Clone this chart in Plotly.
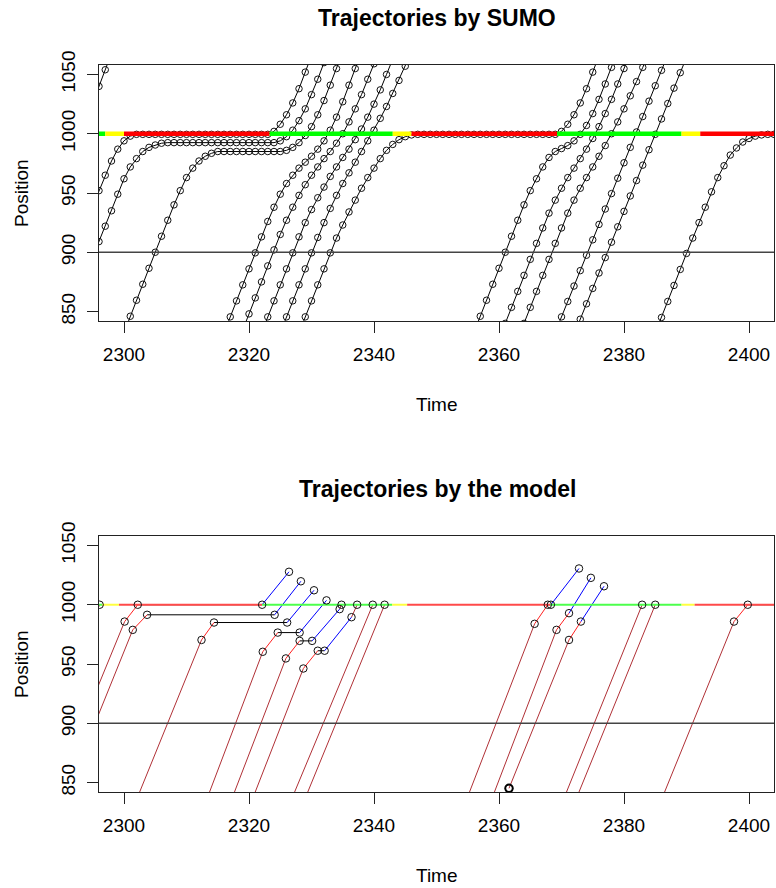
import plotly.graph_objects as go

# ---------------- axis ticks ----------------
time_ticks = [2300, 2320, 2340, 2360, 2380, 2400]
pos_ticks = [850, 900, 950, 1000, 1050]
time_range = [2296, 2404]
pos_range = [842, 1058]
reference_pos = 900
stop_line_pos = 1000

# ---------------- signal phases ----------------
sumo_phase_bounds = [2290, 2297.0, 2300.0, 2323.3, 2343.0, 2346.0, 2369.3, 2389.2, 2392.2, 2410]
sumo_phase_colors = ["green", "yellow", "red", "green", "yellow", "red", "green", "yellow", "red"]
model_phase_bounds = [2290, 2296.5, 2299.2, 2322.1, 2342.9, 2345.3, 2368.2, 2389.2, 2391.3, 2410]
model_phase_colors = ["green", "yellow", "red", "green", "yellow", "red", "green", "yellow", "red"]

# ---------------- SUMO trajectories (1 s samples from start time) ----------------
sumo_A_t0 = 2295
sumo_A_pos = [1026, 1040, 1054, 1068]
sumo_B_t0 = 2295
sumo_B_pos = [939, 952, 965, 977, 987, 994, 998, 999.5,
              999.5, 999.5, 999.5, 999.5, 999.5, 999.5, 999.5, 999.5, 999.5, 999.5, 999.5,
              999.5, 999.5, 999.5, 999.5, 999.5, 999.5, 999.5, 999.5, 999.5, 999.5,
              1002, 1008, 1016, 1026, 1038, 1052, 1066]
sumo_C_t0 = 2295
sumo_C_pos = [896, 909, 922, 935, 949, 962, 972, 979, 985, 988.5, 990.5, 992,
              992.5, 992.5, 992.5, 992.5, 992.5, 992.5, 992.5, 992.5, 992.5,
              992.5, 992.5, 992.5, 992.5, 992.5, 992.5, 992.5, 992.5, 992.5,
              994, 997.5, 1003, 1011, 1021, 1033, 1046, 1060]
sumo_D_t0 = 2300
sumo_D_pos = [832, 846, 859.5, 873, 886.5, 900, 913.5, 927, 940, 952, 963, 971, 977, 981, 983.5,
              985, 985, 985, 985, 985, 985, 985, 985, 985, 985, 985,
              986, 988.5, 992.5, 998.5, 1006, 1016, 1028, 1041, 1055, 1069]
sumo_E_t0 = 2316
sumo_E_pos = [832, 845.5, 859, 872.5, 886, 899.5, 913, 926, 938, 949, 958, 965, 971, 976,
              981, 987, 994, 1003, 1014, 1027, 1041, 1055, 1069]
sumo_F_t0 = 2319
sumo_F_pos = [834.5, 848, 861.5, 875, 888.5, 902, 915, 927, 938, 948, 957, 965, 972, 979,
              985, 992, 1000, 1010, 1021, 1033, 1046, 1059, 1072]
sumo_G_t0 = 2322
sumo_G_pos = [832, 845.5, 859, 872.5, 886, 899.5, 913, 925, 936, 946, 955, 964, 972, 980,
              987, 995, 1004, 1014, 1025, 1037, 1050, 1063]
sumo_H_t0 = 2325
sumo_H_pos = [832, 845.5, 859, 872.5, 886, 899.5, 912.5, 925, 937, 948, 958, 967, 976, 985,
              994, 1003, 1013, 1023, 1034, 1045, 1057, 1069]
sumo_I_t0 = 2328
sumo_I_pos = [832, 845.5, 859, 872.5, 886, 899.5, 912, 923, 934, 944, 954, 963, 971, 979,
              986, 991, 995, 997.5, 999,
              999.5, 999.5, 999.5, 999.5, 999.5, 999.5, 999.5, 999.5, 999.5, 999.5, 999.5, 999.5,
              999.5, 999.5, 999.5, 999.5, 999.5, 999.5, 999.5, 999.5, 999.5, 999.5, 999.5,
              1002, 1008, 1016, 1026, 1038, 1052, 1066]
sumo_K_t0 = 2356
sumo_K_pos = [832.5, 846, 859.5, 873, 886.5, 900, 913.5, 927, 940, 952, 962, 972, 980, 985,
              987.5, 990, 994, 999.5, 1007, 1017, 1029, 1042, 1056, 1070]
sumo_L_t0 = 2361
sumo_L_pos = [840, 853.5, 867, 880.5, 894, 907.5, 920.5, 933, 944, 954, 963, 971, 979, 987,
              996, 1006, 1017, 1029, 1042, 1055, 1068]
sumo_M_t0 = 2364
sumo_M_pos = [840, 853.5, 867, 880.5, 894, 907.5, 920.5, 933, 944, 954, 963, 972, 981, 990,
              1000, 1010, 1021, 1032, 1044, 1056, 1068]
sumo_N_t0 = 2369
sumo_N_pos = [832.5, 845.5, 858.5, 871.5, 884.5, 897.5, 910.5, 923.5, 936.5, 949.5, 962.5,
              975.5, 988.5, 1001.5, 1014.5, 1027.5, 1040.5, 1053.5, 1066.5]
sumo_O_t0 = 2372
sumo_O_pos = [830.5, 843.5, 856.5, 869.5, 882.5, 895.5, 908.5, 921.5, 934.5, 947.5, 960.5,
              973.5, 986.5, 999.5, 1012.5, 1025.5, 1038.5, 1051.5, 1064.5]
sumo_P_t0 = 2385
sumo_P_pos = [832, 845, 858.5, 872, 885.5, 899, 912, 925, 938, 951, 963, 973, 982, 988, 993,
              996, 998, 999, 999.5, 999.5, 999.5]

# ---------------- model trajectories (key points + segment phase) ----------------
model_A_time = [2291, 2296.1]
model_A_pos = [934, 1000]
model_A_phase = ["approach"]
model_B_time = [2291, 2300.1, 2302.2, 2322.1, 2326.4]
model_B_pos = [869, 985.8, 1000, 1000, 1027.8]
model_B_phase = ["approach", "decel", "wait", "depart"]
model_C_time = [2290, 2301.4, 2303.7, 2324.1, 2328.3]
model_C_pos = [830, 978.8, 991.5, 991.5, 1019.8]
model_C_phase = ["approach", "decel", "wait", "depart"]
model_D_time = [2301, 2312.4, 2314.4, 2326.1, 2330.4]
model_D_pos = [822.5, 970.3, 985, 985, 1012.2]
model_D_phase = ["approach", "decel", "wait", "depart"]
model_E_time = [2312, 2322.2, 2324.6, 2328.1, 2332.4]
model_E_pos = [818.5, 960.3, 976.5, 976.5, 1003.7]
model_E_phase = ["approach", "decel", "wait", "depart"]
model_F_time = [2316, 2325.9, 2328.1, 2330.1, 2334.5, 2334.8]
model_F_pos = [819, 954.7, 969.5, 969.5, 996.3, 1000]
model_F_phase = ["approach", "decel", "wait", "depart", "approach"]
model_G_time = [2319, 2328.7, 2331.0, 2332.1, 2336.4, 2337.3]
model_G_pos = [815, 946.2, 961.2, 961.2, 989.5, 1000]
model_G_phase = ["approach", "decel", "wait", "depart", "approach"]
model_H_time = [2326, 2339.8]
model_H_pos = [825.6, 1000]
model_H_phase = ["approach"]
model_I_time = [2328, 2341.7]
model_I_pos = [824, 1000]
model_I_phase = ["approach"]
model_K_time = [2354, 2365.7, 2367.8, 2368.3, 2372.8]
model_K_pos = [824.5, 983.9, 1000, 1000, 1030.6]
model_K_phase = ["approach", "decel", "wait", "depart"]
model_L_time = [2358, 2369.2, 2371.2, 2374.7]
model_L_pos = [824.5, 978.8, 992.9, 1022.7]
model_L_phase = ["approach", "decel", "depart"]
model_M_time = [2361.6, 2371.2, 2373.1, 2376.8]
model_M_pos = [845.1, 970.3, 985.8, 1015.6]
model_M_phase = ["approach", "decel", "depart"]
model_N_time = [2369, 2382.9]
model_N_pos = [818.5, 1000]
model_N_phase = ["approach"]
model_O_time = [2371, 2385.0]
model_O_pos = [818.7, 1000]
model_O_phase = ["approach"]
model_P_time = [2385, 2397.6, 2399.8, 2406]
model_P_pos = [822.6, 985.8, 1000, 1000]
model_P_phase = ["approach", "decel", "wait"]

# ---------------- styles ----------------
FONT = "Arial, Liberation Sans, Arimo, sans-serif"
SUMO_SIGNAL = {"green": "#00ff00", "yellow": "#ffff00", "red": "#ff0000"}
MODEL_SIGNAL = {"green": "#4cff4c", "yellow": "#ffff40", "red": "#ff4a4a"}
PHASE_COLOR = {"approach": "#b03036", "decel": "#ff2020", "wait": "black", "depart": "#0000ff"}

sumo_vehicles = [
    (sumo_A_t0, sumo_A_pos), (sumo_B_t0, sumo_B_pos), (sumo_C_t0, sumo_C_pos),
    (sumo_D_t0, sumo_D_pos), (sumo_E_t0, sumo_E_pos), (sumo_F_t0, sumo_F_pos),
    (sumo_G_t0, sumo_G_pos), (sumo_H_t0, sumo_H_pos), (sumo_I_t0, sumo_I_pos),
    (sumo_K_t0, sumo_K_pos), (sumo_L_t0, sumo_L_pos), (sumo_M_t0, sumo_M_pos),
    (sumo_N_t0, sumo_N_pos), (sumo_O_t0, sumo_O_pos), (sumo_P_t0, sumo_P_pos),
]
model_vehicles = [
    (model_A_time, model_A_pos, model_A_phase), (model_B_time, model_B_pos, model_B_phase),
    (model_C_time, model_C_pos, model_C_phase), (model_D_time, model_D_pos, model_D_phase),
    (model_E_time, model_E_pos, model_E_phase), (model_F_time, model_F_pos, model_F_phase),
    (model_G_time, model_G_pos, model_G_phase), (model_H_time, model_H_pos, model_H_phase),
    (model_I_time, model_I_pos, model_I_phase), (model_K_time, model_K_pos, model_K_phase),
    (model_L_time, model_L_pos, model_L_phase), (model_M_time, model_M_pos, model_M_phase),
    (model_N_time, model_N_pos, model_N_phase), (model_O_time, model_O_pos, model_O_phase),
    (model_P_time, model_P_pos, model_P_phase),
]

fig = go.Figure()

# ---- top panel: SUMO ----
for t0, pos in sumo_vehicles:
    times = [t0 + i for i in range(len(pos))]
    fig.add_trace(go.Scatter(
        x=times, y=pos, mode="lines+markers", xaxis="x", yaxis="y",
        line=dict(color="black", width=1),
        marker=dict(symbol="circle-open", size=6.5, color="#111111", line=dict(width=1)),
        hoverinfo="skip", showlegend=False))

for i, c in enumerate(sumo_phase_colors):
    fig.add_trace(go.Scatter(
        x=[sumo_phase_bounds[i], sumo_phase_bounds[i + 1]], y=[stop_line_pos, stop_line_pos],
        mode="lines", xaxis="x", yaxis="y", line=dict(color=SUMO_SIGNAL[c], width=4.5),
        hoverinfo="skip", showlegend=False))

# ---- bottom panel: model ----
seg_x = {k: [] for k in PHASE_COLOR}
seg_y = {k: [] for k in PHASE_COLOR}
for times, pos, phases in model_vehicles:
    for i, ph in enumerate(phases):
        seg_x[ph] += [times[i], times[i + 1], None]
        seg_y[ph] += [pos[i], pos[i + 1], None]
for ph in ["approach", "wait", "decel", "depart"]:
    fig.add_trace(go.Scatter(
        x=seg_x[ph], y=seg_y[ph], mode="lines", xaxis="x2", yaxis="y2",
        line=dict(color=PHASE_COLOR[ph], width=1), hoverinfo="skip", showlegend=False))

for i, c in enumerate(model_phase_colors):
    fig.add_trace(go.Scatter(
        x=[model_phase_bounds[i], model_phase_bounds[i + 1]], y=[stop_line_pos, stop_line_pos],
        mode="lines", xaxis="x2", yaxis="y2", line=dict(color=MODEL_SIGNAL[c], width=2),
        hoverinfo="skip", showlegend=False))

mk_x, mk_y = [], []
for times, pos, phases in model_vehicles:
    mk_x += times
    mk_y += pos
fig.add_trace(go.Scatter(
    x=mk_x, y=mk_y, mode="markers", xaxis="x2", yaxis="y2",
    marker=dict(symbol="circle-open", size=7.5, color="#111111", line=dict(width=1)),
    hoverinfo="skip", showlegend=False))
fig.add_trace(go.Scatter(
    x=model_M_time[:1], y=model_M_pos[:1], mode="markers", xaxis="x2", yaxis="y2",
    marker=dict(symbol="circle-open", size=7.5, color="black", line=dict(width=2)),
    hoverinfo="skip", showlegend=False))

# reference lines at 900
for xr, yr in [("x domain", "y"), ("x2 domain", "y2")]:
    fig.add_shape(type="line", xref=xr, yref=yr, x0=0, x1=1, y0=reference_pos, y1=reference_pos,
                  line=dict(color="#444444", width=1.6))

W, H = 776, 888
L, R = 99, 2
def py(p):
    return 1 - p / H
def px(p):
    return (p - L) / (W - L - R)

axis_common = dict(showline=True, linecolor="#222222", linewidth=1.2, mirror=True,
                   ticks="outside", ticklen=11, tickwidth=1, tickcolor="#222222",
                   showgrid=False, zeroline=False, automargin=False,
                   tickfont=dict(family=FONT, size=19, color="black"))

fig.update_layout(
    width=W, height=H,
    template="none",
    margin=dict(l=L, r=R, t=0, b=0, autoexpand=False),
    paper_bgcolor="white", plot_bgcolor="white",
    showlegend=False,
    xaxis=dict(domain=[0, 1], anchor="y", range=time_range, tickvals=time_ticks,
               ticklabelstandoff=5, **axis_common),
    yaxis=dict(domain=[py(321), py(65)], anchor="x", range=pos_range, tickvals=pos_ticks,
               tickangle=-90, ticklabelstandoff=4, **axis_common),
    xaxis2=dict(domain=[0, 1], anchor="y2", range=time_range, tickvals=time_ticks,
                ticklabelstandoff=5, **axis_common),
    yaxis2=dict(domain=[py(792), py(536)], anchor="x2", range=pos_range, tickvals=pos_ticks,
                tickangle=-90, ticklabelstandoff=4, **axis_common),
)

ann = [
    dict(text="<b>Trajectories by SUMO</b>", x=px(437), y=py(18), size=23, angle=0),
    dict(text="<b>Trajectories by the model</b>", x=px(437), y=py(489), size=23, angle=0),
    dict(text="Time", x=px(437), y=py(404), size=19, angle=0),
    dict(text="Time", x=px(437), y=py(875), size=19, angle=0),
    dict(text="Position", x=px(21), y=py(193), size=19, angle=-90),
    dict(text="Position", x=px(21), y=py(664), size=19, angle=-90),
]
for a in ann:
    fig.add_annotation(text=a["text"], x=a["x"], y=a["y"], xref="paper", yref="paper",
                       xanchor="center", yanchor="middle", showarrow=False, textangle=a["angle"],
                       font=dict(family=FONT, size=a["size"], color="black"))

fig.write_html("out.html")
